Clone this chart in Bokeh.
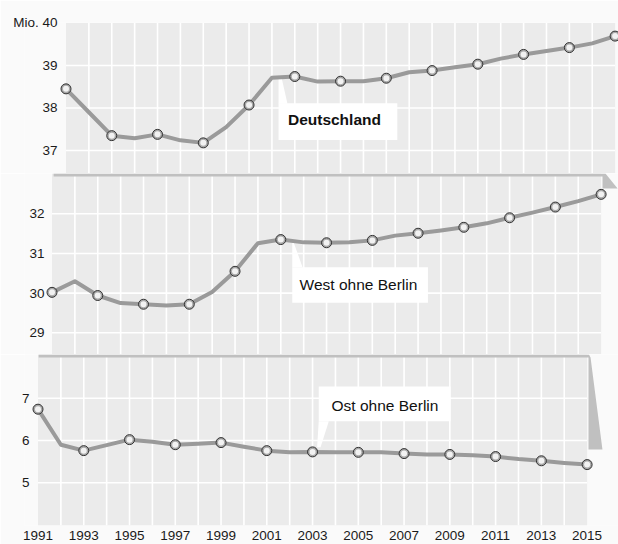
from bokeh.plotting import figure
from bokeh.layouts import column
from bokeh.models import Range1d, FixedTicker, Label
from bokeh.embed import file_html
from bokeh.resources import INLINE

# ---------------- data (Mio. Erwerbstätige) ----------------
years = list(range(1991, 2016))
deutschland = [38.45, 37.90, 37.35, 37.29, 37.38, 37.24, 37.18, 37.55, 38.07, 38.71,
               38.74, 38.62, 38.63, 38.63, 38.70, 38.84, 38.88, 38.96, 39.03, 39.16,
               39.26, 39.34, 39.42, 39.52, 39.69]
west = [30.02, 30.30, 29.94, 29.75, 29.72, 29.69, 29.72, 30.03, 30.55, 31.26,
        31.35, 31.28, 31.27, 31.28, 31.33, 31.45, 31.51, 31.58, 31.66, 31.76,
        31.90, 32.03, 32.17, 32.32, 32.49]
ost = [6.74, 5.90, 5.76, 5.89, 6.02, 5.97, 5.90, 5.92, 5.95, 5.85,
       5.76, 5.72, 5.73, 5.72, 5.72, 5.72, 5.69, 5.67, 5.67, 5.65,
       5.62, 5.56, 5.52, 5.47, 5.43]
marker_years = years[::2]
year_labels = [str(y) for y in marker_years]
ticks_d = [37, 38, 39, 40]
ticks_w = [29, 30, 31, 32]
ticks_o = [5, 6, 7]
names = ["Deutschland", "West ohne Berlin", "Ost ohne Berlin"]

# ---------------- style ----------------
FONT = "Liberation Sans"
PX = 22.88          # pixels per year
W = 618
BORDER_L = 24
BG = "#fafafa"
PANEL = "#ebebeb"
LEDGE = "#c0c0c0"
LINE = "#9a9a9a"


def make_panel(height, x1991, yr, standoff, border_top=0, border_bottom=0, show_x=False):
    frame_w = W - BORDER_L
    x0 = 1991 - (x1991 - BORDER_L) / PX
    p = figure(width=W, height=height,
               x_range=Range1d(x0, x0 + frame_w / PX), y_range=Range1d(*yr),
               output_backend="svg", toolbar_location=None,
               x_axis_location="below" if show_x else None,
               min_border=0, min_border_left=BORDER_L, min_border_right=0,
               min_border_top=border_top, min_border_bottom=border_bottom)
    p.background_fill_color = BG
    p.border_fill_color = BG
    p.outline_line_color = None
    p.grid.visible = False
    ya = p.yaxis[0]
    ya.axis_line_color = None
    ya.major_tick_line_color = None
    ya.minor_tick_line_color = None
    ya.major_tick_out = 0
    ya.minor_tick_out = 0
    ya.major_label_standoff = standoff
    ya.major_label_text_font = FONT
    ya.major_label_text_font_size = "13.5px"
    ya.major_label_text_color = "#1a1a1a"
    if show_x:
        xa = p.xaxis[0]
        xa.ticker = FixedTicker(ticks=marker_years)
        xa.major_label_overrides = {y: s for y, s in zip(marker_years, year_labels)}
        xa.axis_line_color = None
        xa.major_tick_line_color = None
        xa.minor_tick_line_color = None
        xa.major_tick_out = 0
        xa.minor_tick_out = 0
        xa.major_label_standoff = 5
        xa.major_label_text_font = FONT
        xa.major_label_text_font_size = "13.5px"
        xa.major_label_text_color = "#1a1a1a"
    return p


def add_panel_bg(p, bottom, top, hticks):
    p.quad(left=1991, right=2015, bottom=bottom, top=top, fill_color=PANEL, line_color=None)
    vx = list(range(1992, 2015))
    p.segment(x0=vx, y0=[bottom] * len(vx), x1=vx, y1=[top] * len(vx),
              line_color="white", line_width=1.6)
    p.segment(x0=[1991] * len(hticks), y0=hticks, x1=[2015] * len(hticks), y1=hticks,
              line_color="white", line_width=1.6)


def add_box(p, left, right, bottom, top, px, py, text, tx, ty, bold=False):
    p.patch(px, py, fill_color="white", line_color=None)
    p.quad(left=left, right=right, bottom=bottom, top=top, fill_color="white", line_color=None)
    p.add_layout(Label(x=tx, y=ty, text=text, text_font=FONT, text_font_size="15.5px",
                       text_font_style="bold" if bold else "normal", text_color="#111111",
                       text_baseline="middle", text_align="left"))


def add_series(p, vals):
    p.line(years, vals, line_color=LINE, line_width=4, line_join="round")
    mv = vals[::2]
    p.scatter(marker_years, mv, size=10, fill_color="#a8a8a8", line_color="#333333", line_width=1)
    p.scatter(marker_years, mv, size=6, fill_color="#f2f2f2", line_color=None)


# ---------------- top panel: Deutschland ----------------
top = make_panel(173, 65.5, (36.46, 40.01), standoff=-33, border_top=22)
top.yaxis[0].ticker = FixedTicker(ticks=ticks_d)
top.yaxis[0].major_label_overrides = {40: "Mio. 40"}
add_panel_bg(top, 36.46, 40.0, ticks_d[:-1])
add_box(top, 2000.29, 2005.48, 37.25, 38.113,
        [2000.29, 2000.42, 2000.68, 2000.29], [38.716, 38.716, 38.10, 38.10],
        names[0], 2000.70, 37.72, bold=True)
add_series(top, deutschland)

# ---------------- middle panel: West ohne Berlin ----------------
mid = make_panel(181, 51.5, (28.453, 33.016), standoff=-20)
mid.yaxis[0].ticker = FixedTicker(ticks=ticks_w)
add_panel_bg(mid, 28.453, 33.016, ticks_w)
mid.patch([1991.07, 2015.19, 2015.72, 2015.06, 2015.06, 1991.07],
          [33.016, 33.016, 32.64, 32.64, 32.94, 32.94], fill_color=LEDGE, line_color=None)
add_box(mid, 2001.50, 2007.43, 29.757, 30.654,
        [2001.50, 2001.56, 2001.95, 2001.50], [31.284, 31.284, 30.654, 30.654],
        names[1], 2001.82, 30.225)
add_series(mid, west)

# ---------------- bottom panel: Ost ohne Berlin ----------------
bot = make_panel(190, 37.5, (3.99, 8.033), standoff=-5, border_bottom=19, show_x=True)
bot.yaxis[0].ticker = FixedTicker(ticks=ticks_o)
add_panel_bg(bot, 3.99, 8.033, ticks_o)
bot.patch([1991.03, 2015.08, 2015.15, 2015.67, 2015.06, 2015.06, 1991.03],
          [8.033, 8.033, 7.962, 5.787, 5.787, 7.962, 7.962], fill_color=LEDGE, line_color=None)
add_box(bot, 2003.27, 2009.03, 6.456, 7.277,
        [2003.27, 2003.71, 2003.35, 2003.20], [6.456, 6.456, 5.842, 5.842],
        names[2], 2003.83, 6.835)
add_series(bot, ost)

layout = column(top, mid, bot, spacing=0)
open("out.html", "w").write(file_html(layout, INLINE))
